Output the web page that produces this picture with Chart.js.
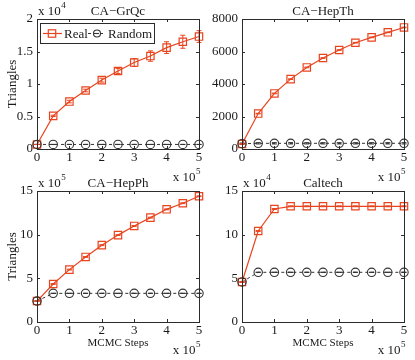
<!DOCTYPE html>
<html><head><meta charset="utf-8">
<script src="https://cdn.jsdelivr.net/npm/chart.js@4.4.0/dist/chart.umd.min.js"></script>
<style>
html,body{margin:0;padding:0;background:#fff;}
#wrap{position:relative;width:415px;height:360px;overflow:hidden;background:#fff;}
canvas{position:absolute;left:0;top:0;width:415px;height:360px;}
</style></head><body><div id="wrap">
<canvas id="c1" width="415" height="360"></canvas>
<canvas id="c2" width="415" height="360"></canvas>
<canvas id="c3" width="415" height="360"></canvas>
<canvas id="c4" width="415" height="360"></canvas>
</div>
<script>
// ---- data (x in units of 10^5 MCMC steps) ----
const steps = [0, 0.5, 1, 1.5, 2, 2.5, 3, 3.5, 4, 4.5, 5];
const xTickLabels = ['0', '1', '2', '3', '4', '5'];

// CA-GrQc (x 10^4)
const grqcReal      = [0.07, 0.51, 0.73, 0.90, 1.06, 1.20, 1.33, 1.43, 1.56, 1.65, 1.73];
const grqcRealErr   = [0, 0.01, 0.02, 0.02, 0.03, 0.04, 0.06, 0.08, 0.09, 0.10, 0.09];
const grqcRandom    = [0.07, 0.07, 0.07, 0.07, 0.07, 0.07, 0.07, 0.07, 0.07, 0.07, 0.07];
const grqcRandomErr = [0, 0, 0, 0, 0, 0, 0, 0, 0, 0, 0];
const grqcTicks     = ['0', '0.5', '1', '1.5', '2'];

// CA-HepTh
const hepthReal      = [310, 2180, 3420, 4300, 5020, 5600, 6090, 6540, 6870, 7180, 7480];
const hepthRealErr   = [20, 20, 20, 20, 20, 20, 20, 20, 20, 20, 20];
const hepthRandom    = [330, 350, 350, 350, 350, 350, 350, 350, 350, 350, 350];
const hepthRandomErr = [40, 40, 40, 40, 40, 40, 40, 40, 40, 40, 40];
const hepthTicks     = ['0', '2000', '4000', '6000', '8000'];

// CA-HepPh (x 10^5)
const hepphReal      = [2.4, 4.35, 6.0, 7.45, 8.8, 9.95, 11.0, 11.95, 12.9, 13.6, 14.4];
const hepphRealErr   = [0.05, 0.05, 0.05, 0.05, 0.05, 0.05, 0.05, 0.05, 0.05, 0.05, 0.05];
const hepphRandom    = [2.4, 3.28, 3.28, 3.28, 3.28, 3.28, 3.28, 3.28, 3.28, 3.28, 3.28];
const hepphRandomErr = [0, 0, 0, 0, 0, 0, 0, 0, 0, 0, 0];
const hepphTicks     = ['0', '5', '10', '15'];

// Caltech (x 10^4)
const caltechReal      = [4.58, 10.42, 12.94, 13.25, 13.25, 13.25, 13.25, 13.25, 13.25, 13.25, 13.25];
const caltechRealErr   = [0.05, 0.05, 0.05, 0.05, 0.05, 0.05, 0.05, 0.05, 0.05, 0.05, 0.05];
const caltechRandom    = [4.58, 5.69, 5.69, 5.69, 5.69, 5.69, 5.69, 5.69, 5.69, 5.69, 5.69];
const caltechRandomErr = [0, 0, 0, 0, 0, 0, 0, 0, 0, 0, 0];
const caltechTicks     = ['0', '5', '10', '15'];

const seriesNames = ['Real', 'Random'];

// ---- styling ----
const FONT = "'Liberation Serif', 'Times New Roman', serif";
const RED = '#e8441e';
const GRAY = '#333333';
const AXIS = '#2b2b2b';
const W = 415, H = 360;
Chart.defaults.font.family = FONT;
Chart.defaults.font.size = 13;
Chart.defaults.color = '#1a1a1a';

const panels = [
  {id:'c1', area:{l:37,t:19,r:199,b:149}, title:'CA\u2212GrQc', yMax:2, yStep:0.5, ticks:grqcTicks, yExp:'4', xExp:'5', yLabel:true, xLabel:false, legend:true,
   real:grqcReal, realErr:grqcRealErr, rand:grqcRandom, randErr:grqcRandomErr},
  {id:'c2', area:{l:242,t:19,r:404,b:149}, title:'CA\u2212HepTh', yMax:8000, yStep:2000, ticks:hepthTicks, yExp:null, xExp:'5', yLabel:false, xLabel:false, legend:false,
   real:hepthReal, realErr:hepthRealErr, rand:hepthRandom, randErr:hepthRandomErr},
  {id:'c3', area:{l:37,t:191,r:199,b:322}, title:'CA\u2212HepPh', yMax:15, yStep:5, ticks:hepphTicks, yExp:'5', xExp:'5', yLabel:true, xLabel:true, legend:false,
   real:hepphReal, realErr:hepphRealErr, rand:hepphRandom, randErr:hepphRandomErr},
  {id:'c4', area:{l:242,t:191,r:404,b:322}, title:'Caltech', yMax:15, yStep:5, ticks:caltechTicks, yExp:'4', xExp:'5', yLabel:false, xLabel:true, legend:false,
   real:caltechReal, realErr:caltechRealErr, rand:caltechRandom, randErr:caltechRandomErr}
];

function drawExpLabel(ctx, x, baseline, exp, alignRight) {
  ctx.save();
  ctx.fillStyle = '#1a1a1a';
  ctx.textBaseline = 'alphabetic';
  ctx.font = '13px ' + FONT;
  const base = 'x 10';
  const bw = ctx.measureText(base).width;
  ctx.font = '9px ' + FONT;
  const ew = ctx.measureText(exp).width;
  let x0 = alignRight ? x - bw - ew : x;
  ctx.font = '13px ' + FONT;
  ctx.textAlign = 'left';
  ctx.fillText(base, x0, baseline);
  ctx.font = '9px ' + FONT;
  ctx.fillText(exp, x0 + bw + 0.5, baseline - 7);
  ctx.restore();
}

function circleMarker(ctx, x, y, r, color) {
  ctx.beginPath(); ctx.arc(x, y, r, 0, Math.PI * 2);
  ctx.strokeStyle = color; ctx.lineWidth = 1.1; ctx.stroke();
}

const panelPlugin = {
  id: 'panelDecor',
  afterDatasetsDraw(chart, args, opts) {
    const ctx = chart.ctx;
    const xs = chart.scales.x, ys = chart.scales.y;
    chart.data.datasets.forEach(ds => {
      const errs = ds.errors; if (!errs) return;
      ctx.save();
      ctx.strokeStyle = ds.borderColor; ctx.lineWidth = 1;
      ds.data.forEach((pt, i) => {
        const px = xs.getPixelForValue(pt.x);
        const y1 = ys.getPixelForValue(pt.y - errs[i]);
        const y2 = ys.getPixelForValue(pt.y + errs[i]);
        ctx.beginPath();
        ctx.moveTo(px, y1); ctx.lineTo(px, y2);
        ctx.moveTo(px - 2.5, y1); ctx.lineTo(px + 2.5, y1);
        ctx.moveTo(px - 2.5, y2); ctx.lineTo(px + 2.5, y2);
        ctx.stroke();
      });
      ctx.restore();
    });
  },
  afterDraw(chart, args, opts) {
    const p = opts.panel;
    const ctx = chart.ctx;
    const xs = chart.scales.x, ys = chart.scales.y;
    const a = chart.chartArea;
    ctx.save();
    ctx.strokeStyle = AXIS; ctx.lineWidth = 1;
    ctx.strokeRect(Math.round(a.left) + 0.5, Math.round(a.top) + 0.5, Math.round(a.right - a.left), Math.round(a.bottom - a.top));
    const tl = 3;
    ctx.beginPath();
    xs.ticks.forEach(t => {
      const px = Math.round(xs.getPixelForValue(t.value)) + 0.5;
      ctx.moveTo(px, a.bottom); ctx.lineTo(px, a.bottom - tl);
      ctx.moveTo(px, a.top); ctx.lineTo(px, a.top + tl);
    });
    ys.ticks.forEach(t => {
      const py = Math.round(ys.getPixelForValue(t.value)) + 0.5;
      ctx.moveTo(a.left, py); ctx.lineTo(a.left + tl, py);
      ctx.moveTo(a.right, py); ctx.lineTo(a.right - tl, py);
    });
    ctx.stroke();
    ctx.fillStyle = '#1a1a1a';
    ctx.font = '13px ' + FONT;
    ctx.textAlign = 'center'; ctx.textBaseline = 'alphabetic';
    ctx.fillText(p.title, (a.left + a.right) / 2, a.top - 4);
    if (p.yExp) drawExpLabel(ctx, a.left + 1, a.top - 4, p.yExp, false);
    if (p.xExp) drawExpLabel(ctx, a.right + 1, a.bottom + 32, p.xExp, true);
    if (p.yLabel) {
      ctx.save();
      ctx.translate(a.left - 21, (a.top + a.bottom) / 2);
      ctx.rotate(-Math.PI / 2);
      ctx.font = '13px ' + FONT;
      ctx.textAlign = 'center'; ctx.textBaseline = 'alphabetic';
      ctx.fillText('Triangles', 0, 0);
      ctx.restore();
    }
    if (p.xLabel) {
      ctx.font = '11px ' + FONT;
      ctx.textAlign = 'center'; ctx.textBaseline = 'alphabetic';
      ctx.fillText('MCMC Steps', (a.left + a.right) / 2, a.bottom + 24);
    }
    if (p.legend) {
      const bx = a.left + 3.5, by = a.top + 4.5, bw = 114, bh = 20;
      ctx.fillStyle = '#fff';
      ctx.fillRect(bx, by, bw, bh);
      ctx.strokeStyle = AXIS; ctx.lineWidth = 1;
      ctx.strokeRect(bx, by, bw, bh);
      const cy = by + bh / 2;
      const ox = a.left;
      ctx.strokeStyle = RED; ctx.lineWidth = 1.2;
      ctx.beginPath(); ctx.moveTo(ox + 6, cy); ctx.lineTo(ox + 25, cy); ctx.stroke();
      ctx.strokeRect(ox + 15 - 3.7, cy - 3.7, 7.4, 7.4);
      ctx.fillStyle = '#1a1a1a';
      ctx.font = '13px ' + FONT; ctx.textAlign = 'left'; ctx.textBaseline = 'alphabetic';
      ctx.fillText(seriesNames[0], ox + 27, cy + 4.5);
      ctx.strokeStyle = GRAY; ctx.lineWidth = 1;
      ctx.setLineDash([3, 3]);
      ctx.beginPath(); ctx.moveTo(ox + 51, cy); ctx.lineTo(ox + 69, cy); ctx.stroke();
      ctx.setLineDash([]);
      circleMarker(ctx, ox + 60, cy, 3.5, GRAY);
      ctx.beginPath(); ctx.moveTo(ox + 58, cy); ctx.lineTo(ox + 62, cy); ctx.stroke();
      ctx.fillText(seriesNames[1], ox + 71, cy + 4.5);
    }
    ctx.restore();
  }
};

function toPts(arr) { return arr.map((v, i) => ({x: steps[i], y: v})); }

const YW = 37, XH = 31;
panels.forEach(p => {
  new Chart(document.getElementById(p.id), {
    type: 'line',
    data: {
      datasets: [
        {label: seriesNames[1], data: toPts(p.rand), errors: p.randErr, borderColor: GRAY, borderWidth: 1, borderDash: [3, 3],
         pointStyle: 'circle', pointRadius: 4.2, pointBorderWidth: 1.1, pointBorderColor: GRAY, pointBackgroundColor: 'rgba(0,0,0,0)',
         tension: 0, clip: false},
        {label: seriesNames[0], data: toPts(p.real), errors: p.realErr, borderColor: RED, borderWidth: 1.2,
         pointStyle: 'rect', pointRadius: 5.2, pointBorderWidth: 1.2, pointBorderColor: RED, pointBackgroundColor: 'rgba(0,0,0,0)',
         tension: 0, clip: false}
      ]
    },
    options: {
      responsive: false, animation: false, devicePixelRatio: 1,
      layout: {padding: {top: p.area.t, right: W - p.area.r, left: p.area.l - YW, bottom: H - p.area.b - XH}},
      plugins: {legend: {display: false}, tooltip: {enabled: false}, title: {display: false}, panelDecor: {panel: p}},
      scales: {
        x: {type: 'linear', min: 0, max: 5,
            ticks: {stepSize: 1, padding: 1, maxRotation: 0, autoSkip: false, callback: v => xTickLabels[Math.round(v)]},
            grid: {display: false, drawTicks: false}, border: {display: false},
            afterFit: s => { s.height = XH; }},
        y: {type: 'linear', min: 0, max: p.yMax,
            ticks: {stepSize: p.yStep, padding: 4, autoSkip: false, callback: (v, i) => p.ticks[i]},
            grid: {display: false, drawTicks: false}, border: {display: false},
            afterFit: s => { s.width = YW; }}
      }
    },
    plugins: [panelPlugin]
  });
});
</script>
</body></html>
